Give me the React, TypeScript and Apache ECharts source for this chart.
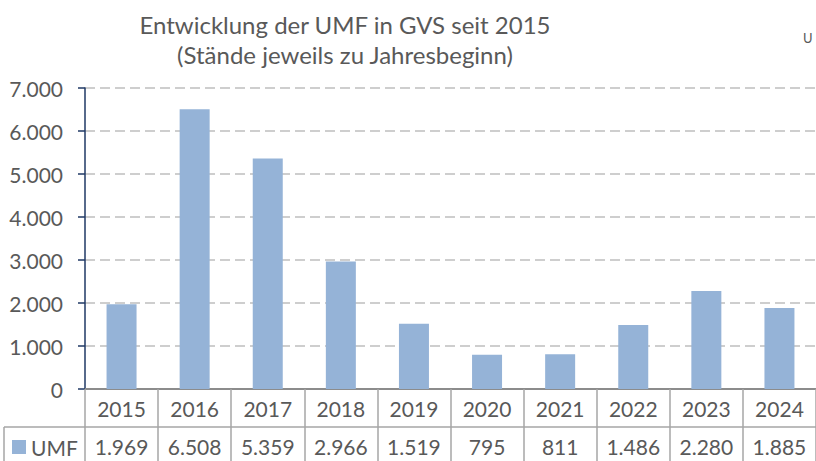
import React, { useEffect, useRef } from "react";
import * as echarts from "echarts";

const years = ["2015", "2016", "2017", "2018", "2019", "2020", "2021", "2022", "2023", "2024"];
const umf = [1969, 6508, 5359, 2966, 1519, 795, 811, 1486, 2280, 1885];
const titleLines = ["Entwicklung der UMF in GVS seit 2015", "(Stände jeweils zu Jahresbeginn)"];
const seriesName = "UMF";
const cornerText = "U";

const fmt = (v: number) => {
  const s = String(Math.round(v));
  return s.replace(/\B(?=(\d{3})+(?!\d))/g, ".");
};

const FONT = "Lato";
const TXT = "#595959";
const BAR = "#95B3D7";
const GRID_LINE = "#A6A6A6";

export default function App() {
  const ref = useRef<HTMLDivElement>(null);
  useEffect(() => {
    if (!ref.current) return;
    const chart = echarts.init(ref.current, null, { renderer: "svg" });
    chart.setOption({
      animation: false,
      backgroundColor: "#ffffff",
      textStyle: { fontFamily: FONT },
      title: {
        text: titleLines.join("\n"),
        left: 340,
        top: 4,
        textAlign: "center",
        textStyle: { fontFamily: FONT, fontSize: 24, fontWeight: "normal", color: TXT, lineHeight: 30 },
      },
      grid: { left: 85, top: 88, width: 736, height: 301, containLabel: false },
      xAxis: [
        {
          type: "category",
          data: years,
          position: "bottom",
          axisLine: { show: true, lineStyle: { color: "#8C8C8C", width: 2 } },
          axisTick: { show: true, inside: false, length: 80, lineStyle: { color: GRID_LINE, width: 1.5 } },
          axisLabel: { color: TXT, fontSize: 21, fontFamily: FONT, margin: 9 },
          splitLine: { show: false },
        },
        {
          type: "category",
          data: years,
          position: "bottom",
          offset: 38,
          axisLine: { show: true, lineStyle: { color: GRID_LINE, width: 1.5 } },
          axisTick: { show: false },
          axisLabel: {
            color: TXT,
            fontSize: 21,
            fontFamily: FONT,
            margin: 9,
            formatter: (_v: string, i: number) => fmt(umf[i]),
          },
          splitLine: { show: false },
        },
      ],
      yAxis: {
        type: "value",
        min: 0,
        max: 7000,
        interval: 1000,
        axisLine: { show: true, lineStyle: { color: "#1F3864", width: 1.5 } },
        axisTick: { show: true, length: 7, lineStyle: { color: "#1F3864", width: 1.5 } },
        axisLabel: { color: TXT, fontSize: 21, fontFamily: FONT, margin: 22, formatter: (v: number) => fmt(v) },
        splitLine: { show: true, lineStyle: { color: "#BFBFBF", width: 1.5, type: [10, 5] } },
      },
      series: [
        {
          name: seriesName,
          type: "bar",
          data: umf,
          barWidth: 30,
          itemStyle: { color: BAR },
          xAxisIndex: 0,
        },
      ],
      graphic: [
        { type: "line", shape: { x1: 4, y1: 427, x2: 85, y2: 427 }, style: { stroke: GRID_LINE, lineWidth: 1.5 } },
        { type: "line", shape: { x1: 4, y1: 427, x2: 4, y2: 461 }, style: { stroke: GRID_LINE, lineWidth: 1.5 } },
        { type: "rect", shape: { x: 12, y: 440, width: 14, height: 14 }, style: { fill: BAR } },
        {
          type: "text",
          x: 31,
          y: 447,
          style: { text: seriesName, fill: TXT, font: `21px ${FONT}`, textVerticalAlign: "middle", textAlign: "left" },
        },
        {
          type: "text",
          x: 803,
          y: 38,
          style: { text: cornerText, fill: TXT, font: `13px ${FONT}`, textVerticalAlign: "middle", textAlign: "left" },
        },
      ],
    });
    return () => chart.dispose();
  }, []);
  return <div ref={ref} style={{ position: "fixed", left: 0, top: 0, width: 816, height: 461 }} />;
}
